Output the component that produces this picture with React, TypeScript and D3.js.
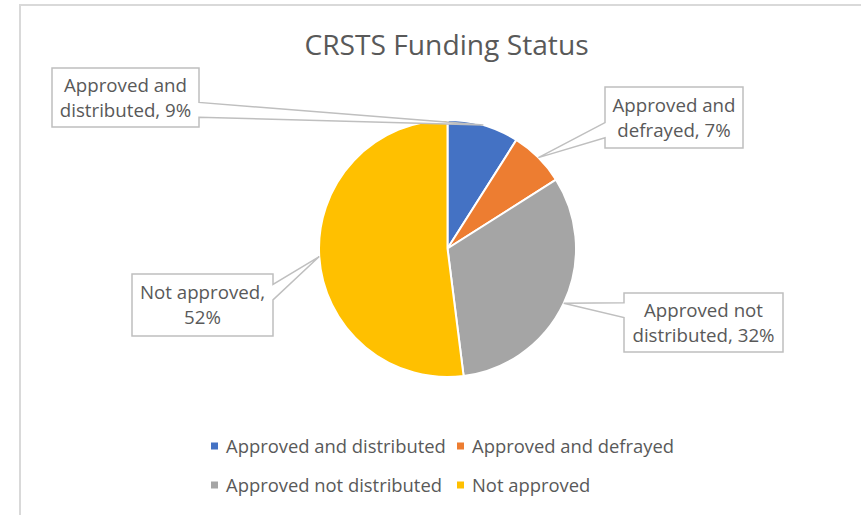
import React from "react";
import * as d3 from "d3";

const title = "CRSTS Funding Status";
const categories = [
  "Approved and distributed",
  "Approved and defrayed",
  "Approved not distributed",
  "Not approved",
];
const values = [9, 7, 32, 52];
const colors = ["#4472C4", "#ED7D31", "#A5A5A5", "#FFC000"];

// label box layout (centre x, centre y, width, height)
const labelBoxes = [
  { cx: 125.5, cy: 97.5, w: 147, h: 59 },
  { cx: 674, cy: 117.5, w: 138, h: 61 },
  { cx: 703.5, cy: 322.5, w: 159, h: 59 },
  { cx: 202.5, cy: 305, w: 141, h: 62 },
];

const W = 861;
const H = 515;
const CX = 447.5;
const CY = 248.5;
const R = 128.5;
const FONT = "'Open Sans', 'Noto Sans', sans-serif";
const TEXT = "#595959";
const FS = 18.7;

function calloutPath(
  b: { cx: number; cy: number; w: number; h: number },
  tip: [number, number]
) {
  const l = b.cx - b.w / 2;
  const t = b.cy - b.h / 2;
  const r = l + b.w;
  const bt = t + b.h;
  const dxPos = tip[0] - b.cx;
  const dyPos = tip[1] - b.cy;
  const horiz = Math.abs(dxPos) / b.w > Math.abs(dyPos) / b.h;
  const y1 = t + (b.h * (dyPos > 0 ? 7 : 2)) / 12;
  const y2 = t + (b.h * (dyPos > 0 ? 10 : 5)) / 12;
  const x1 = l + (b.w * (dxPos > 0 ? 7 : 2)) / 12;
  const x2 = l + (b.w * (dxPos > 0 ? 10 : 5)) / 12;
  const [tx, ty] = tip;
  let p = `M${l},${t}`;
  if (!horiz && dyPos < 0) p += `L${x1},${t}L${tx},${ty}L${x2},${t}`;
  p += `L${r},${t}`;
  if (horiz && dxPos > 0) p += `L${r},${y1}L${tx},${ty}L${r},${y2}`;
  p += `L${r},${bt}`;
  if (!horiz && dyPos > 0) p += `L${x2},${bt}L${tx},${ty}L${x1},${bt}`;
  p += `L${l},${bt}`;
  if (horiz && dxPos < 0) p += `L${l},${y2}L${tx},${ty}L${l},${y1}`;
  p += "Z";
  return p;
}

export default function App() {
  const pie = d3.pie<number>().sort(null).startAngle(0).endAngle(2 * Math.PI);
  const arcs = pie(values);
  const arc = d3.arc<d3.PieArcDatum<number>>().innerRadius(0).outerRadius(R);
  const edge = d3.arc<d3.PieArcDatum<number>>().innerRadius(R).outerRadius(R);
  const total = d3.sum(values);

  const legendCol = d3.scaleOrdinal<number, number>().domain([0, 1]).range([211, 457]);
  const legendRow = d3.scaleOrdinal<number, number>().domain([0, 1]).range([446, 485]);

  return (
    <svg
      width={W}
      height={H}
      style={{ position: "absolute", left: 0, top: 0, background: "#fff" }}
      fontFamily={FONT}
    >
      <rect width={W} height={H} fill="#ffffff" />
      <path d={`M20,${H + 2}V5H${W + 2}`} fill="none" stroke="#d9d9d9" strokeWidth={2} />
      <text
        x={446.5}
        y={55}
        textAnchor="middle"
        fontSize={28.2}
        fill={TEXT}
      >
        {title}
      </text>
      <g transform={`translate(${CX},${CY})`}>
        {arcs.map((a, i) => (
          <path key={i} d={arc(a) || ""} fill={colors[i]} stroke="#ffffff" strokeWidth={2} />
        ))}
      </g>
      {arcs.map((a, i) => {
        const c = edge.centroid(a);
        const tip: [number, number] = [CX + c[0], CY + c[1]];
        const b = labelBoxes[i];
        const pct = Math.round((values[i] / total) * 100);
        const words = `${categories[i]}, ${pct}%`.split(" ");
        const lines = [words.slice(0, 2).join(" "), words.slice(2).join(" ")];
        return (
          <g key={i}>
            <path d={calloutPath(b, tip)} fill="#ffffff" stroke="#bfbfbf" strokeWidth={1.5} />
            {lines.map((ln, j) => (
              <text
                key={j}
                x={b.cx}
                y={b.cy + (j === 0 ? -12.5 : 12.5) + 0.35 * FS}
                textAnchor="middle"
                fontSize={FS}
                fill={TEXT}
              >
                {ln}
              </text>
            ))}
          </g>
        );
      })}
      {categories.map((c, i) => {
        const x = legendCol(i % 2);
        const y = legendRow(Math.floor(i / 2));
        return (
          <g key={c}>
            <rect x={x} y={y - 3.5} width={7} height={7} fill={colors[i]} />
            <text x={x + 15} y={y + 6.5} fontSize={18.4} fill={TEXT}>
              {c}
            </text>
          </g>
        );
      })}
    </svg>
  );
}
